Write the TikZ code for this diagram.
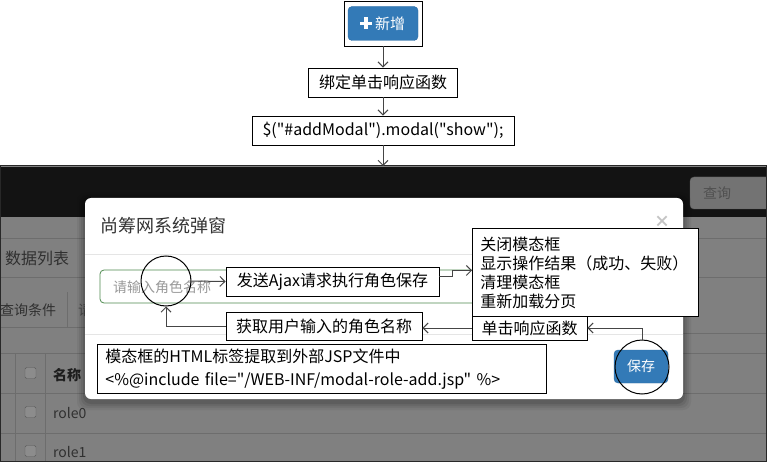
\documentclass[tikz,border=0pt]{standalone}
\usepackage{fontspec}
\setmainfont{Noto Sans CJK SC}[Ligatures=TeXOff]
\usetikzlibrary{arrows.meta,positioning}
\definecolor{scrgray}{HTML}{808080}
\definecolor{linegray}{HTML}{6D6D6D}
\definecolor{navdark}{HTML}{131313}
\definecolor{bsblue}{HTML}{337AB7}
\definecolor{bsblueb}{HTML}{2E6DA4}
\definecolor{dimtext}{HTML}{303030}
\definecolor{arrowgray}{HTML}{454545}
\definecolor{okgreen}{HTML}{4E8A4F}
\definecolor{qbtn}{HTML}{737373}
\definecolor{qbtnb}{HTML}{5F5F5F}
\definecolor{qtext}{HTML}{505050}
\definecolor{cbfill}{HTML}{8C8C8C}
\definecolor{cbdraw}{HTML}{5A5A5A}
\definecolor{boldtext}{HTML}{1E1E1E}
\definecolor{titletext}{HTML}{333333}
\definecolor{closegray}{HTML}{C4C4C4}
\definecolor{divider}{HTML}{E5E5E5}
\definecolor{phgray}{HTML}{999999}
\definecolor{scrborder}{HTML}{282828}
\tikzset{
  ann/.style={draw=black, line width=0.9pt, fill=white, inner sep=0pt,
    font=\fontsize{16}{19}\selectfont},
  conn/.style={draw=arrowgray, line width=1pt, -{Straight Barb[length=5pt,width=10pt]}},
  ring/.style={draw=black, line width=1pt, circle, inner sep=0pt},
  dimlbl/.style={inner sep=0pt, anchor=west, text=dimtext, font=\fontsize{14}{16}\selectfont},
  rowline/.style={draw=linegray, line width=0.8pt},
}
\begin{document}
\begin{tikzpicture}[x=1pt,y=-1pt]
\useasboundingbox (0,0) rectangle (767,462);
\fill[white] (0,0) rectangle (767,462);

% ---------- top flow ----------
\node[draw=black, line width=0.9pt, minimum width=78pt, minimum height=45pt, inner sep=0pt] (btnbox) at (383,23.5) {};
\node[fill=bsblue, draw=bsblueb, rounded corners=4pt, minimum width=70pt, minimum height=34pt, inner sep=0pt] (addbtn) at (383,23.5) {};
\fill[white] (360,21.7) rectangle (372,25.3);
\fill[white] (364.2,17.5) rectangle (367.8,29.5);
\node[inner sep=0pt, text=white, font=\fontsize{15}{17}\selectfont] (addtxt) at (390,23.5) {新增};

\node[ann, minimum width=149pt, minimum height=29pt] (bind) at (383,82.5) {绑定单击响应函数};
\node[ann, minimum width=262pt, minimum height=29pt] (show) at (383,130.5) {\$("\#addModal").modal("show");};
\coordinate (scrtop) at (383,166);

% ---------- screenshot background ----------
\begin{scope}
\clip (0,166) rectangle (767,462);
\fill[scrgray] (0,166) rectangle (767,462);
\fill[navdark] (0,167) rectangle (767,217);
\draw[fill=qbtn, draw=qbtnb, rounded corners=4pt] (690,177) rectangle (790,209);
\node[dimlbl, text=qtext] (querytxt) at (703,193) {查询};
\foreach \yy in {238,277,353,393,433} \draw[rowline] (0,\yy) -- (767,\yy);
\draw[rowline] (0,327) -- (85,327);
\draw[rowline] (683,333) -- (767,333);
\draw[rowline] (67,292) -- (67,327);
\draw[rowline] (15,353) -- (15,462);
\draw[rowline] (45,353) -- (45,462);
\node[dimlbl, font=\fontsize{16}{18}\selectfont] (listtitle) at (5,258) {数据列表};
\node[dimlbl] (tabtxt) at (0,310) {查询条件};
\node[dimlbl, text=qtext] (tabtxt2) at (78,310) {请};
\foreach \yy in {373,412,451}
  \draw[fill=cbfill, draw=cbdraw, rounded corners=1.5pt] (25,\yy-5.5) rectangle (36,\yy+5.5);
\node[dimlbl, font=\fontsize{14}{16}\selectfont\bfseries, text=boldtext] (colname) at (53,375) {名称};
\node[dimlbl] (row0) at (53,413) {role0};
\node[dimlbl] (row1) at (53,452) {role1};

% modal shadow
\foreach \s/\o in {8/0.05,6/0.06,4/0.08,2/0.10}
  \fill[black, opacity=\o, rounded corners=8pt] (85-\s,198-\s+3) rectangle (683+\s,399+\s+3);
% modal
\fill[white, rounded corners=6pt] (85,198) rectangle (683,399);
\node[inner sep=0pt, anchor=west, text=titletext, font=\fontsize{18}{20}\selectfont] (mtitle) at (100,226) {尚筹网系统弹窗};
\node[inner sep=0pt, text=closegray, font=\fontsize{16}{16}\selectfont\bfseries] (mclose) at (662,222) {×};
\draw[divider, line width=0.8pt] (85,254) -- (683,254);
\draw[divider, line width=0.8pt] (85,334) -- (683,334);
\draw[okgreen, line width=0.8pt, rounded corners=4pt] (100,270) rectangle (668,303);
\node[inner sep=0pt, anchor=west, text=phgray, font=\fontsize{14}{16}\selectfont] (placeholder) at (113,287) {请输入角色名称};
\node[fill=bsblue, draw=bsblueb, rounded corners=4pt, minimum width=54pt, minimum height=33pt, inner sep=0pt, text=white, font=\fontsize{14}{16}\selectfont] (savebtn) at (641,366.5) {保存};
\draw[scrborder, line width=1pt] (0.5,166) rectangle (766.5,461.5);
\end{scope}

% ---------- annotations ----------
\node[ring, minimum size=50pt] (circin) at (166,281) {};
\node[ring, minimum size=54pt] (circsave) at (642,367) {};
\node[ann, minimum width=213pt, minimum height=29pt] (ajax) at (332.5,281.5) {发送Ajax请求执行角色保存};
\node[ann, anchor=north west, minimum width=226pt, minimum height=88pt, text width=210pt, inner xsep=8pt, align=left] (result) at (472,228) {关闭模态框\\显示操作结果（成功、失败）\\清理模态框\\重新加载分页};
\node[ann, minimum width=115pt, minimum height=24pt] (click) at (529.5,328) {单击响应函数};
\node[ann, minimum width=196pt, minimum height=28pt] (getname) at (324,326) {获取用户输入的角色名称};
\node[ann, anchor=north west, minimum width=447pt, minimum height=49pt, text width=433pt, inner xsep=8pt, align=left, font=\fontsize{16}{23}\selectfont] (jsp) at (97,344) {模态框的HTML标签提取到外部JSP文件中\\<\%@include file="/WEB-INF/modal-role-add.jsp" \%>};

% ---------- connectors ----------
\draw[conn] (btnbox.south) -- (bind.north);
\draw[conn] (bind.south) -- (show.north);
\draw[conn] (show.south) -- (scrtop);
\draw[conn] (circin.east) -- (ajax.west);
\draw[conn] ([yshift=5pt]ajax.east) -- ++(13,0) |- ([yshift=2pt]result.west);
\draw[conn] (circsave.north) |- (click.east);
\draw[conn] (click.west) -- (click.west -| getname.east);
\draw[conn] (getname.west) -| (circin.south);
\end{tikzpicture}
\end{document}
